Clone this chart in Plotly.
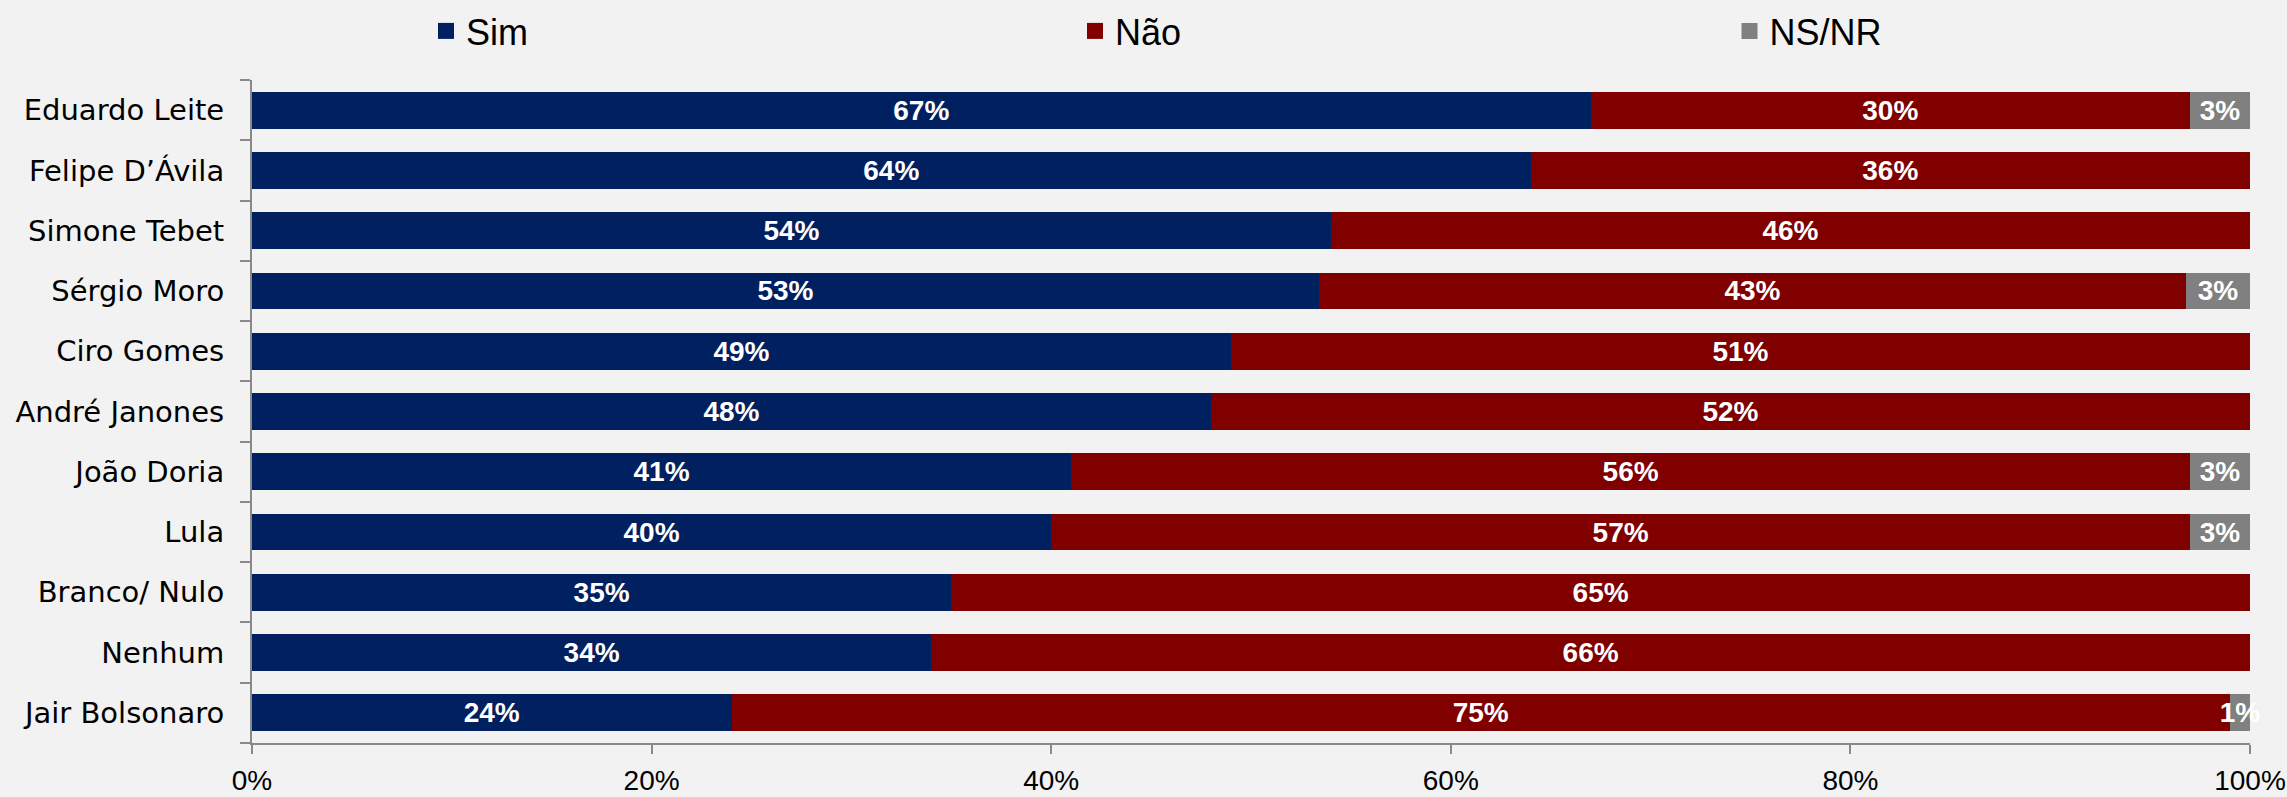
import plotly.graph_objects as go

candidatos = [
    "Eduardo Leite", "Felipe D’Ávila", "Simone Tebet", "Sérgio Moro", "Ciro Gomes",
    "André Janones", "João Doria", "Lula", "Branco/ Nulo", "Nenhum", "Jair Bolsonaro",
]
sim = [67, 64, 54, 53.4, 49, 48, 41, 40, 35, 34, 24]
nao = [30, 36, 46, 43.4, 51, 52, 56, 57, 65, 66, 75]
ns_nr = [3, 0, 0, 3.2, 0, 0, 3, 3, 0, 0, 1]

x_ticks = [0, 20, 40, 60, 80, 100]
x_labels = ["0%", "20%", "40%", "60%", "80%", "100%"]

series = [
    ("Sim", sim, "#002060", "legend", 0.0871),
    ("Não", nao, "#800000", "legend2", 0.4119),
    ("NS/NR", ns_nr, "#808080", "legend3", 0.7395),
]

fig = go.Figure()
for name, values, color, leg, _ in series:
    fig.add_trace(go.Bar(
        y=candidatos, x=values, name=name, orientation="h",
        marker=dict(color=color, line=dict(width=0)),
        text=[f"{v:.0f}%" if v else "" for v in values],
        textposition="inside", insidetextanchor="middle",
        textangle=0, constraintext="none", cliponaxis=False,
        textfont=dict(family="Liberation Sans, Arial", size=28, color="white", weight="bold"),
        showlegend=False, hoverinfo="skip",
    ))
    # legend-only entry so the swatch can be a bigger square
    fig.add_trace(go.Scatter(
        x=[None], y=[None], mode="markers", name=name,
        marker=dict(symbol="square", size=19, color=color),
        legend=leg, showlegend=True, hoverinfo="skip",
    ))

legend_style = dict(
    orientation="h", yanchor="middle", y=1.0739, xanchor="left",
    bgcolor="rgba(0,0,0,0)", borderwidth=0, itemsizing="trace",
    font=dict(family="Liberation Sans, Arial", size=36, color="black"),
)
layout_legends = {}
for name, values, color, leg, xpos in series:
    layout_legends[leg] = dict(legend_style, x=xpos)

fig.update_layout(
    barmode="stack",
    bargap=0.39,
    width=2287, height=797,
    margin=dict(l=252, r=37, t=80, b=54, autoexpand=False),
    paper_bgcolor="#F2F2F2", plot_bgcolor="#F2F2F2",
    showlegend=True,
    **layout_legends,
)
fig.update_xaxes(
    range=[0, 100], tickvals=x_ticks, ticktext=x_labels,
    showgrid=False, zeroline=False,
    showline=True, linecolor="#898989", linewidth=2,
    ticks="outside", ticklen=9, tickwidth=2, tickcolor="#898989",
    ticklabeloverflow="allow", ticklabelstandoff=2,
    tickfont=dict(family="Liberation Sans, Arial", size=28, color="black"),
)
fig.update_yaxes(
    categoryorder="array", categoryarray=candidatos[::-1],
    showgrid=False, zeroline=False,
    showline=True, linecolor="#898989", linewidth=2,
    ticks="outside", ticklen=10, tickwidth=2, tickcolor="#898989",
    tickson="boundaries", ticklabelstandoff=20,
    tickfont=dict(family="DejaVu Sans", size=29, color="black"),
)

fig.write_html(
    "out.html",
    config={"displayModeBar": False},
    post_script="document.body.style.margin='0';document.body.style.background='#F2F2F2';",
)
